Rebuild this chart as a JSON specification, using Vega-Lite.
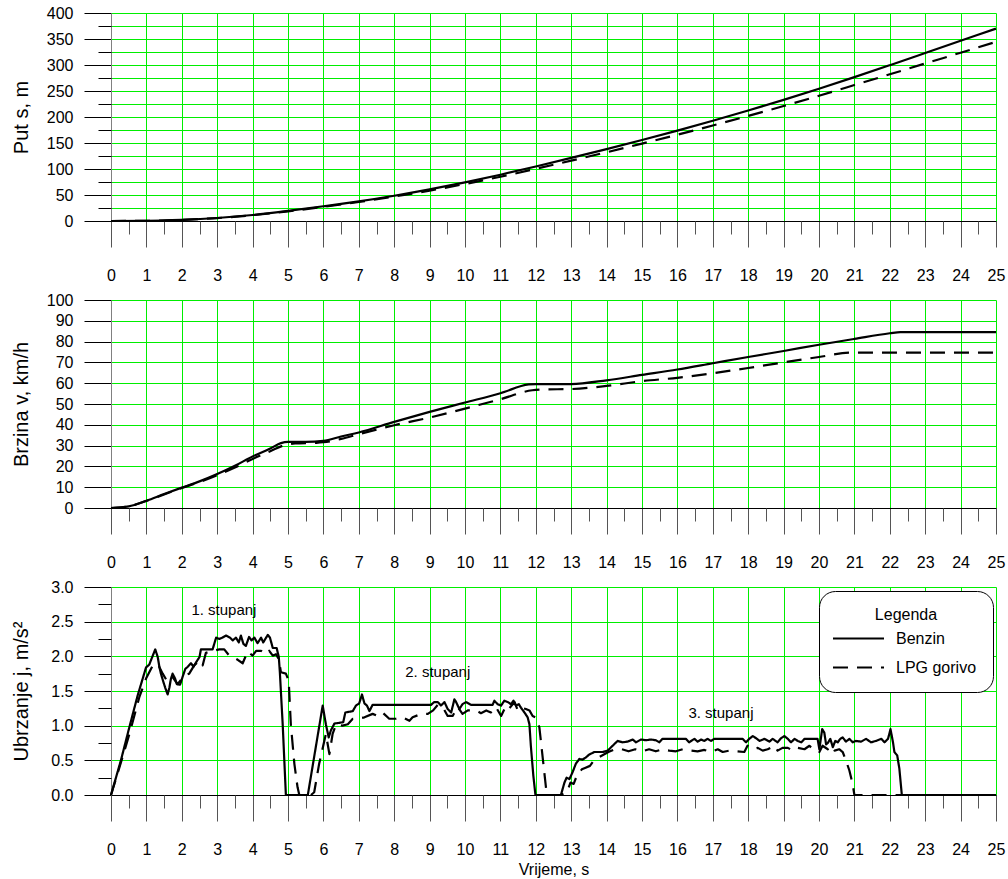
{
  "$schema": "https://vega.github.io/schema/vega-lite/v6.json",
  "padding": {"left": 10, "top": 5, "right": 1, "bottom": 5},
  "bounds": "flush",
  "spacing": 79,
  "config": {
    "view": {"stroke": null},
    "font": "Liberation Sans",
    "axis": {
      "labelFont": "Liberation Sans",
      "titleFont": "Liberation Sans",
      "labelColor": "black",
      "titleColor": "black",
      "labelFontSize": 16,
      "titleFontSize": 20,
      "titleFontWeight": "normal",
      "labelOverlap": false,
      "labelFlush": false,
      "labelBound": false,
      "gridColor": "#00ee00",
      "gridWidth": 1,
      "tickColor": "#555555",
      "tickWidth": 1,
      "domainWidth": 1
    }
  },
  "datasets": {
    "put": [
      {"t": 0, "s": 0, "gorivo": "Benzin"}, {"t": 1, "s": 0.35, "gorivo": "Benzin"}, {"t": 2, "s": 2.2, "gorivo": "Benzin"},
      {"t": 3, "s": 5.8, "gorivo": "Benzin"}, {"t": 4, "s": 11.5, "gorivo": "Benzin"}, {"t": 5, "s": 19.4, "gorivo": "Benzin"},
      {"t": 6, "s": 28.3, "gorivo": "Benzin"}, {"t": 7, "s": 37.8, "gorivo": "Benzin"}, {"t": 8, "s": 48.6, "gorivo": "Benzin"},
      {"t": 9, "s": 60.8, "gorivo": "Benzin"}, {"t": 10, "s": 74.3, "gorivo": "Benzin"}, {"t": 11, "s": 89.0, "gorivo": "Benzin"},
      {"t": 12, "s": 104.9, "gorivo": "Benzin"}, {"t": 13, "s": 121.4, "gorivo": "Benzin"}, {"t": 14, "s": 138.2, "gorivo": "Benzin"},
      {"t": 15, "s": 155.7, "gorivo": "Benzin"}, {"t": 16, "s": 173.8, "gorivo": "Benzin"}, {"t": 17, "s": 192.7, "gorivo": "Benzin"},
      {"t": 18, "s": 212.5, "gorivo": "Benzin"}, {"t": 19, "s": 233.0, "gorivo": "Benzin"}, {"t": 20, "s": 254.4, "gorivo": "Benzin"},
      {"t": 21, "s": 276.6, "gorivo": "Benzin"}, {"t": 22, "s": 299.6, "gorivo": "Benzin"}, {"t": 23, "s": 323.0, "gorivo": "Benzin"},
      {"t": 24, "s": 346.5, "gorivo": "Benzin"}, {"t": 25, "s": 370.0, "gorivo": "Benzin"},
      {"t": 0, "s": 0, "gorivo": "LPG gorivo"}, {"t": 1, "s": 0.35, "gorivo": "LPG gorivo"}, {"t": 2, "s": 2.16, "gorivo": "LPG gorivo"},
      {"t": 3, "s": 5.66, "gorivo": "LPG gorivo"}, {"t": 4, "s": 11.1, "gorivo": "LPG gorivo"}, {"t": 5, "s": 18.6, "gorivo": "LPG gorivo"},
      {"t": 6, "s": 27.2, "gorivo": "LPG gorivo"}, {"t": 7, "s": 36.5, "gorivo": "LPG gorivo"}, {"t": 8, "s": 47.0, "gorivo": "LPG gorivo"},
      {"t": 9, "s": 58.5, "gorivo": "LPG gorivo"}, {"t": 10, "s": 71.2, "gorivo": "LPG gorivo"}, {"t": 11, "s": 85.1, "gorivo": "LPG gorivo"},
      {"t": 12, "s": 100.3, "gorivo": "LPG gorivo"}, {"t": 13, "s": 116.1, "gorivo": "LPG gorivo"}, {"t": 14, "s": 132.2, "gorivo": "LPG gorivo"},
      {"t": 15, "s": 148.8, "gorivo": "LPG gorivo"}, {"t": 16, "s": 166.0, "gorivo": "LPG gorivo"}, {"t": 17, "s": 183.7, "gorivo": "LPG gorivo"},
      {"t": 18, "s": 202.0, "gorivo": "LPG gorivo"}, {"t": 19, "s": 221.1, "gorivo": "LPG gorivo"}, {"t": 20, "s": 240.9, "gorivo": "LPG gorivo"},
      {"t": 21, "s": 261.4, "gorivo": "LPG gorivo"}, {"t": 22, "s": 282.1, "gorivo": "LPG gorivo"}, {"t": 23, "s": 302.9, "gorivo": "LPG gorivo"},
      {"t": 24, "s": 323.6, "gorivo": "LPG gorivo"}, {"t": 25, "s": 344.4, "gorivo": "LPG gorivo"}
    ],
    "brzina": [
      {"t": 0, "v": 0, "gorivo": "Benzin"}, {"t": 0.5, "v": 0.8, "gorivo": "Benzin"}, {"t": 1, "v": 3.5, "gorivo": "Benzin"},
      {"t": 1.5, "v": 6.7, "gorivo": "Benzin"}, {"t": 2, "v": 9.8, "gorivo": "Benzin"}, {"t": 2.5, "v": 12.8, "gorivo": "Benzin"},
      {"t": 3, "v": 16.3, "gorivo": "Benzin"}, {"t": 3.5, "v": 20.3, "gorivo": "Benzin"}, {"t": 4, "v": 24.8, "gorivo": "Benzin"},
      {"t": 4.5, "v": 28.6, "gorivo": "Benzin"}, {"t": 4.8, "v": 31.2, "gorivo": "Benzin"}, {"t": 5, "v": 31.8, "gorivo": "Benzin"},
      {"t": 5.5, "v": 31.8, "gorivo": "Benzin"}, {"t": 6, "v": 32.3, "gorivo": "Benzin"}, {"t": 6.5, "v": 34.4, "gorivo": "Benzin"},
      {"t": 7, "v": 36.3, "gorivo": "Benzin"}, {"t": 8, "v": 41.4, "gorivo": "Benzin"}, {"t": 9, "v": 46.2, "gorivo": "Benzin"},
      {"t": 10, "v": 50.7, "gorivo": "Benzin"}, {"t": 11, "v": 55.2, "gorivo": "Benzin"}, {"t": 11.8, "v": 59.4, "gorivo": "Benzin"},
      {"t": 12, "v": 59.6, "gorivo": "Benzin"}, {"t": 13, "v": 59.6, "gorivo": "Benzin"}, {"t": 14, "v": 61.4, "gorivo": "Benzin"},
      {"t": 15, "v": 64.0, "gorivo": "Benzin"}, {"t": 16, "v": 66.6, "gorivo": "Benzin"}, {"t": 17, "v": 69.6, "gorivo": "Benzin"},
      {"t": 18, "v": 72.6, "gorivo": "Benzin"}, {"t": 19, "v": 75.5, "gorivo": "Benzin"}, {"t": 20, "v": 78.5, "gorivo": "Benzin"},
      {"t": 21, "v": 81.3, "gorivo": "Benzin"}, {"t": 22, "v": 84.0, "gorivo": "Benzin"}, {"t": 22.3, "v": 84.6, "gorivo": "Benzin"},
      {"t": 25, "v": 84.6, "gorivo": "Benzin"},
      {"t": 0, "v": 0, "gorivo": "LPG gorivo"}, {"t": 0.5, "v": 0.8, "gorivo": "LPG gorivo"}, {"t": 1, "v": 3.4, "gorivo": "LPG gorivo"},
      {"t": 1.5, "v": 6.5, "gorivo": "LPG gorivo"}, {"t": 2, "v": 9.6, "gorivo": "LPG gorivo"}, {"t": 2.5, "v": 12.5, "gorivo": "LPG gorivo"},
      {"t": 3, "v": 15.8, "gorivo": "LPG gorivo"}, {"t": 3.5, "v": 19.5, "gorivo": "LPG gorivo"}, {"t": 4, "v": 23.6, "gorivo": "LPG gorivo"},
      {"t": 4.5, "v": 27.3, "gorivo": "LPG gorivo"}, {"t": 4.9, "v": 30.2, "gorivo": "LPG gorivo"}, {"t": 5.2, "v": 31.0, "gorivo": "LPG gorivo"},
      {"t": 5.8, "v": 31.3, "gorivo": "LPG gorivo"}, {"t": 6, "v": 31.6, "gorivo": "LPG gorivo"}, {"t": 6.5, "v": 33.2, "gorivo": "LPG gorivo"},
      {"t": 7, "v": 35.5, "gorivo": "LPG gorivo"}, {"t": 8, "v": 39.8, "gorivo": "LPG gorivo"}, {"t": 9, "v": 43.5, "gorivo": "LPG gorivo"},
      {"t": 10, "v": 47.8, "gorivo": "LPG gorivo"}, {"t": 11, "v": 52.3, "gorivo": "LPG gorivo"}, {"t": 11.9, "v": 56.6, "gorivo": "LPG gorivo"},
      {"t": 12.2, "v": 57.0, "gorivo": "LPG gorivo"}, {"t": 13, "v": 57.2, "gorivo": "LPG gorivo"}, {"t": 14, "v": 58.7, "gorivo": "LPG gorivo"},
      {"t": 15, "v": 61.0, "gorivo": "LPG gorivo"}, {"t": 16, "v": 62.6, "gorivo": "LPG gorivo"}, {"t": 17, "v": 64.8, "gorivo": "LPG gorivo"},
      {"t": 18, "v": 67.3, "gorivo": "LPG gorivo"}, {"t": 19, "v": 70.0, "gorivo": "LPG gorivo"}, {"t": 20, "v": 72.6, "gorivo": "LPG gorivo"},
      {"t": 20.9, "v": 74.7, "gorivo": "LPG gorivo"}, {"t": 25, "v": 74.7, "gorivo": "LPG gorivo"}
    ],
    "ubrzanje": [
      {"t": 0, "j": 0, "gorivo": "Benzin"}, {"t": 0.28, "j": 0.5, "gorivo": "Benzin"}, {"t": 0.52, "j": 0.98, "gorivo": "Benzin"},
      {"t": 0.75, "j": 1.43, "gorivo": "Benzin"}, {"t": 0.99, "j": 1.84, "gorivo": "Benzin"}, {"t": 1.08, "j": 1.88, "gorivo": "Benzin"},
      {"t": 1.18, "j": 2.01, "gorivo": "Benzin"}, {"t": 1.25, "j": 2.1, "gorivo": "Benzin"}, {"t": 1.32, "j": 1.99, "gorivo": "Benzin"},
      {"t": 1.37, "j": 1.84, "gorivo": "Benzin"}, {"t": 1.41, "j": 1.75, "gorivo": "Benzin"}, {"t": 1.48, "j": 1.63, "gorivo": "Benzin"},
      {"t": 1.53, "j": 1.55, "gorivo": "Benzin"}, {"t": 1.6, "j": 1.45, "gorivo": "Benzin"}, {"t": 1.65, "j": 1.55, "gorivo": "Benzin"},
      {"t": 1.69, "j": 1.67, "gorivo": "Benzin"}, {"t": 1.74, "j": 1.75, "gorivo": "Benzin"}, {"t": 1.81, "j": 1.68, "gorivo": "Benzin"},
      {"t": 1.86, "j": 1.6, "gorivo": "Benzin"}, {"t": 1.95, "j": 1.59, "gorivo": "Benzin"}, {"t": 2.02, "j": 1.7, "gorivo": "Benzin"},
      {"t": 2.1, "j": 1.82, "gorivo": "Benzin"}, {"t": 2.17, "j": 1.85, "gorivo": "Benzin"}, {"t": 2.26, "j": 1.9, "gorivo": "Benzin"},
      {"t": 2.33, "j": 1.85, "gorivo": "Benzin"}, {"t": 2.4, "j": 1.91, "gorivo": "Benzin"}, {"t": 2.5, "j": 1.99, "gorivo": "Benzin"},
      {"t": 2.54, "j": 2.1, "gorivo": "Benzin"}, {"t": 2.87, "j": 2.1, "gorivo": "Benzin"}, {"t": 2.97, "j": 2.27, "gorivo": "Benzin"},
      {"t": 3.06, "j": 2.25, "gorivo": "Benzin"}, {"t": 3.15, "j": 2.27, "gorivo": "Benzin"}, {"t": 3.25, "j": 2.3, "gorivo": "Benzin"},
      {"t": 3.36, "j": 2.27, "gorivo": "Benzin"}, {"t": 3.44, "j": 2.23, "gorivo": "Benzin"}, {"t": 3.53, "j": 2.27, "gorivo": "Benzin"},
      {"t": 3.61, "j": 2.2, "gorivo": "Benzin"}, {"t": 3.67, "j": 2.3, "gorivo": "Benzin"}, {"t": 3.74, "j": 2.18, "gorivo": "Benzin"},
      {"t": 3.81, "j": 2.15, "gorivo": "Benzin"}, {"t": 3.9, "j": 2.28, "gorivo": "Benzin"}, {"t": 3.97, "j": 2.23, "gorivo": "Benzin"},
      {"t": 4.05, "j": 2.27, "gorivo": "Benzin"}, {"t": 4.14, "j": 2.19, "gorivo": "Benzin"}, {"t": 4.24, "j": 2.27, "gorivo": "Benzin"},
      {"t": 4.3, "j": 2.2, "gorivo": "Benzin"}, {"t": 4.43, "j": 2.31, "gorivo": "Benzin"}, {"t": 4.49, "j": 2.27, "gorivo": "Benzin"},
      {"t": 4.57, "j": 2.12, "gorivo": "Benzin"}, {"t": 4.68, "j": 2.12, "gorivo": "Benzin"}, {"t": 4.74, "j": 1.99, "gorivo": "Benzin"},
      {"t": 4.77, "j": 1.77, "gorivo": "Benzin"}, {"t": 4.85, "j": 1.02, "gorivo": "Benzin"}, {"t": 4.94, "j": 0, "gorivo": "Benzin"},
      {"t": 5.56, "j": 0, "gorivo": "Benzin"}, {"t": 5.98, "j": 1.29, "gorivo": "Benzin"}, {"t": 6.07, "j": 1.02, "gorivo": "Benzin"},
      {"t": 6.15, "j": 0.83, "gorivo": "Benzin"}, {"t": 6.21, "j": 0.93, "gorivo": "Benzin"}, {"t": 6.31, "j": 1.03, "gorivo": "Benzin"},
      {"t": 6.56, "j": 1.05, "gorivo": "Benzin"}, {"t": 6.62, "j": 1.19, "gorivo": "Benzin"}, {"t": 6.83, "j": 1.21, "gorivo": "Benzin"},
      {"t": 6.92, "j": 1.29, "gorivo": "Benzin"}, {"t": 7.01, "j": 1.32, "gorivo": "Benzin"}, {"t": 7.09, "j": 1.45, "gorivo": "Benzin"},
      {"t": 7.16, "j": 1.32, "gorivo": "Benzin"}, {"t": 7.23, "j": 1.29, "gorivo": "Benzin"}, {"t": 7.3, "j": 1.21, "gorivo": "Benzin"},
      {"t": 7.39, "j": 1.3, "gorivo": "Benzin"}, {"t": 9.04, "j": 1.3, "gorivo": "Benzin"}, {"t": 9.13, "j": 1.34, "gorivo": "Benzin"},
      {"t": 9.23, "j": 1.34, "gorivo": "Benzin"}, {"t": 9.32, "j": 1.29, "gorivo": "Benzin"}, {"t": 9.42, "j": 1.34, "gorivo": "Benzin"},
      {"t": 9.51, "j": 1.24, "gorivo": "Benzin"}, {"t": 9.61, "j": 1.19, "gorivo": "Benzin"}, {"t": 9.7, "j": 1.38, "gorivo": "Benzin"},
      {"t": 9.75, "j": 1.34, "gorivo": "Benzin"}, {"t": 9.84, "j": 1.24, "gorivo": "Benzin"}, {"t": 9.93, "j": 1.31, "gorivo": "Benzin"},
      {"t": 10.03, "j": 1.34, "gorivo": "Benzin"}, {"t": 10.17, "j": 1.3, "gorivo": "Benzin"}, {"t": 10.78, "j": 1.3, "gorivo": "Benzin"},
      {"t": 10.83, "j": 1.36, "gorivo": "Benzin"}, {"t": 10.92, "j": 1.31, "gorivo": "Benzin"}, {"t": 11.02, "j": 1.29, "gorivo": "Benzin"},
      {"t": 11.11, "j": 1.36, "gorivo": "Benzin"}, {"t": 11.21, "j": 1.34, "gorivo": "Benzin"}, {"t": 11.3, "j": 1.31, "gorivo": "Benzin"},
      {"t": 11.37, "j": 1.36, "gorivo": "Benzin"}, {"t": 11.44, "j": 1.29, "gorivo": "Benzin"}, {"t": 11.52, "j": 1.31, "gorivo": "Benzin"},
      {"t": 11.58, "j": 1.26, "gorivo": "Benzin"}, {"t": 11.68, "j": 1.19, "gorivo": "Benzin"}, {"t": 11.77, "j": 1.12, "gorivo": "Benzin"},
      {"t": 11.82, "j": 1.02, "gorivo": "Benzin"}, {"t": 11.86, "j": 0.71, "gorivo": "Benzin"}, {"t": 11.93, "j": 0.28, "gorivo": "Benzin"},
      {"t": 11.99, "j": 0, "gorivo": "Benzin"}, {"t": 12.71, "j": 0, "gorivo": "Benzin"}, {"t": 12.81, "j": 0.18, "gorivo": "Benzin"},
      {"t": 12.87, "j": 0.25, "gorivo": "Benzin"}, {"t": 12.95, "j": 0.23, "gorivo": "Benzin"}, {"t": 13.04, "j": 0.33, "gorivo": "Benzin"},
      {"t": 13.13, "j": 0.45, "gorivo": "Benzin"}, {"t": 13.23, "j": 0.52, "gorivo": "Benzin"}, {"t": 13.32, "j": 0.51, "gorivo": "Benzin"},
      {"t": 13.41, "j": 0.54, "gorivo": "Benzin"}, {"t": 13.5, "j": 0.58, "gorivo": "Benzin"}, {"t": 13.65, "j": 0.62, "gorivo": "Benzin"},
      {"t": 13.89, "j": 0.62, "gorivo": "Benzin"}, {"t": 14.03, "j": 0.64, "gorivo": "Benzin"}, {"t": 14.17, "j": 0.71, "gorivo": "Benzin"},
      {"t": 14.31, "j": 0.78, "gorivo": "Benzin"}, {"t": 14.45, "j": 0.76, "gorivo": "Benzin"}, {"t": 14.59, "j": 0.77, "gorivo": "Benzin"},
      {"t": 14.74, "j": 0.8, "gorivo": "Benzin"}, {"t": 14.83, "j": 0.76, "gorivo": "Benzin"}, {"t": 14.97, "j": 0.8, "gorivo": "Benzin"},
      {"t": 15.11, "j": 0.79, "gorivo": "Benzin"}, {"t": 15.25, "j": 0.8, "gorivo": "Benzin"}, {"t": 15.39, "j": 0.79, "gorivo": "Benzin"},
      {"t": 15.49, "j": 0.76, "gorivo": "Benzin"}, {"t": 15.58, "j": 0.81, "gorivo": "Benzin"}, {"t": 16.24, "j": 0.81, "gorivo": "Benzin"},
      {"t": 16.33, "j": 0.76, "gorivo": "Benzin"}, {"t": 16.48, "j": 0.81, "gorivo": "Benzin"}, {"t": 16.57, "j": 0.77, "gorivo": "Benzin"},
      {"t": 16.67, "j": 0.8, "gorivo": "Benzin"}, {"t": 16.76, "j": 0.78, "gorivo": "Benzin"}, {"t": 16.85, "j": 0.81, "gorivo": "Benzin"},
      {"t": 16.95, "j": 0.78, "gorivo": "Benzin"}, {"t": 17.04, "j": 0.81, "gorivo": "Benzin"}, {"t": 17.84, "j": 0.81, "gorivo": "Benzin"},
      {"t": 17.94, "j": 0.76, "gorivo": "Benzin"}, {"t": 18.03, "j": 0.81, "gorivo": "Benzin"}, {"t": 18.13, "j": 0.85, "gorivo": "Benzin"},
      {"t": 18.22, "j": 0.82, "gorivo": "Benzin"}, {"t": 18.32, "j": 0.78, "gorivo": "Benzin"}, {"t": 18.46, "j": 0.81, "gorivo": "Benzin"},
      {"t": 18.6, "j": 0.77, "gorivo": "Benzin"}, {"t": 18.69, "j": 0.81, "gorivo": "Benzin"}, {"t": 18.83, "j": 0.76, "gorivo": "Benzin"},
      {"t": 18.93, "j": 0.82, "gorivo": "Benzin"}, {"t": 19.02, "j": 0.85, "gorivo": "Benzin"}, {"t": 19.12, "j": 0.81, "gorivo": "Benzin"},
      {"t": 19.21, "j": 0.76, "gorivo": "Benzin"}, {"t": 19.31, "j": 0.81, "gorivo": "Benzin"}, {"t": 19.4, "j": 0.78, "gorivo": "Benzin"},
      {"t": 19.5, "j": 0.76, "gorivo": "Benzin"}, {"t": 19.59, "j": 0.81, "gorivo": "Benzin"}, {"t": 19.96, "j": 0.81, "gorivo": "Benzin"},
      {"t": 20.01, "j": 0.66, "gorivo": "Benzin"}, {"t": 20.09, "j": 0.95, "gorivo": "Benzin"}, {"t": 20.15, "j": 0.9, "gorivo": "Benzin"},
      {"t": 20.2, "j": 0.73, "gorivo": "Benzin"}, {"t": 20.25, "j": 0.75, "gorivo": "Benzin"}, {"t": 20.32, "j": 0.81, "gorivo": "Benzin"},
      {"t": 20.39, "j": 0.69, "gorivo": "Benzin"}, {"t": 20.46, "j": 0.78, "gorivo": "Benzin"}, {"t": 20.53, "j": 0.76, "gorivo": "Benzin"},
      {"t": 20.6, "j": 0.81, "gorivo": "Benzin"}, {"t": 20.67, "j": 0.83, "gorivo": "Benzin"}, {"t": 20.76, "j": 0.77, "gorivo": "Benzin"},
      {"t": 20.86, "j": 0.81, "gorivo": "Benzin"}, {"t": 20.95, "j": 0.76, "gorivo": "Benzin"}, {"t": 21.04, "j": 0.78, "gorivo": "Benzin"},
      {"t": 21.19, "j": 0.77, "gorivo": "Benzin"}, {"t": 21.33, "j": 0.81, "gorivo": "Benzin"}, {"t": 21.47, "j": 0.76, "gorivo": "Benzin"},
      {"t": 21.61, "j": 0.78, "gorivo": "Benzin"}, {"t": 21.76, "j": 0.81, "gorivo": "Benzin"}, {"t": 21.85, "j": 0.76, "gorivo": "Benzin"},
      {"t": 21.95, "j": 0.81, "gorivo": "Benzin"}, {"t": 22.02, "j": 0.95, "gorivo": "Benzin"}, {"t": 22.09, "j": 0.76, "gorivo": "Benzin"},
      {"t": 22.13, "j": 0.62, "gorivo": "Benzin"}, {"t": 22.21, "j": 0.57, "gorivo": "Benzin"}, {"t": 22.27, "j": 0.38, "gorivo": "Benzin"},
      {"t": 22.34, "j": 0, "gorivo": "Benzin"}, {"t": 25, "j": 0, "gorivo": "Benzin"},
      {"t": 0, "j": 0, "gorivo": "LPG gorivo"}, {"t": 0.24, "j": 0.4, "gorivo": "LPG gorivo"}, {"t": 0.52, "j": 0.88, "gorivo": "LPG gorivo"},
      {"t": 0.8, "j": 1.41, "gorivo": "LPG gorivo"}, {"t": 0.99, "j": 1.68, "gorivo": "LPG gorivo"}, {"t": 1.18, "j": 1.87, "gorivo": "LPG gorivo"},
      {"t": 1.32, "j": 1.89, "gorivo": "LPG gorivo"}, {"t": 1.46, "j": 1.75, "gorivo": "LPG gorivo"}, {"t": 1.6, "j": 1.63, "gorivo": "LPG gorivo"},
      {"t": 1.74, "j": 1.7, "gorivo": "LPG gorivo"}, {"t": 1.88, "j": 1.6, "gorivo": "LPG gorivo"}, {"t": 2.07, "j": 1.72, "gorivo": "LPG gorivo"},
      {"t": 2.21, "j": 1.75, "gorivo": "LPG gorivo"}, {"t": 2.35, "j": 1.87, "gorivo": "LPG gorivo"}, {"t": 2.5, "j": 1.94, "gorivo": "LPG gorivo"},
      {"t": 2.59, "j": 1.87, "gorivo": "LPG gorivo"}, {"t": 2.68, "j": 2.05, "gorivo": "LPG gorivo"}, {"t": 2.87, "j": 2.08, "gorivo": "LPG gorivo"},
      {"t": 3.06, "j": 2.1, "gorivo": "LPG gorivo"}, {"t": 3.2, "j": 2.1, "gorivo": "LPG gorivo"}, {"t": 3.34, "j": 2.01, "gorivo": "LPG gorivo"},
      {"t": 3.44, "j": 1.99, "gorivo": "LPG gorivo"}, {"t": 3.58, "j": 1.95, "gorivo": "LPG gorivo"}, {"t": 3.72, "j": 1.9, "gorivo": "LPG gorivo"},
      {"t": 3.86, "j": 2.07, "gorivo": "LPG gorivo"}, {"t": 4.0, "j": 2.01, "gorivo": "LPG gorivo"}, {"t": 4.1, "j": 2.08, "gorivo": "LPG gorivo"},
      {"t": 4.24, "j": 2.08, "gorivo": "LPG gorivo"}, {"t": 4.38, "j": 2.03, "gorivo": "LPG gorivo"}, {"t": 4.47, "j": 2.08, "gorivo": "LPG gorivo"},
      {"t": 4.57, "j": 2.01, "gorivo": "LPG gorivo"}, {"t": 4.66, "j": 2.03, "gorivo": "LPG gorivo"}, {"t": 4.74, "j": 1.96, "gorivo": "LPG gorivo"},
      {"t": 4.8, "j": 1.77, "gorivo": "LPG gorivo"}, {"t": 4.94, "j": 1.75, "gorivo": "LPG gorivo"}, {"t": 5.02, "j": 1.65, "gorivo": "LPG gorivo"},
      {"t": 5.08, "j": 1.02, "gorivo": "LPG gorivo"}, {"t": 5.18, "j": 0.45, "gorivo": "LPG gorivo"}, {"t": 5.27, "j": 0.11, "gorivo": "LPG gorivo"},
      {"t": 5.32, "j": 0, "gorivo": "LPG gorivo"}, {"t": 5.65, "j": 0, "gorivo": "LPG gorivo"}, {"t": 5.74, "j": 0.04, "gorivo": "LPG gorivo"},
      {"t": 5.88, "j": 0.45, "gorivo": "LPG gorivo"}, {"t": 6.07, "j": 0.88, "gorivo": "LPG gorivo"}, {"t": 6.17, "j": 0.59, "gorivo": "LPG gorivo"},
      {"t": 6.26, "j": 0.88, "gorivo": "LPG gorivo"}, {"t": 6.36, "j": 1.02, "gorivo": "LPG gorivo"}, {"t": 6.54, "j": 1.0, "gorivo": "LPG gorivo"},
      {"t": 6.69, "j": 1.02, "gorivo": "LPG gorivo"}, {"t": 6.83, "j": 1.1, "gorivo": "LPG gorivo"}, {"t": 6.97, "j": 1.1, "gorivo": "LPG gorivo"},
      {"t": 7.16, "j": 1.12, "gorivo": "LPG gorivo"}, {"t": 7.39, "j": 1.17, "gorivo": "LPG gorivo"}, {"t": 7.53, "j": 1.14, "gorivo": "LPG gorivo"},
      {"t": 7.67, "j": 1.19, "gorivo": "LPG gorivo"}, {"t": 7.86, "j": 1.1, "gorivo": "LPG gorivo"}, {"t": 8.05, "j": 1.1, "gorivo": "LPG gorivo"},
      {"t": 8.24, "j": 1.12, "gorivo": "LPG gorivo"}, {"t": 8.43, "j": 1.07, "gorivo": "LPG gorivo"}, {"t": 8.52, "j": 1.12, "gorivo": "LPG gorivo"},
      {"t": 8.76, "j": 1.17, "gorivo": "LPG gorivo"}, {"t": 8.95, "j": 1.17, "gorivo": "LPG gorivo"}, {"t": 9.1, "j": 1.22, "gorivo": "LPG gorivo"},
      {"t": 9.23, "j": 1.3, "gorivo": "LPG gorivo"}, {"t": 9.37, "j": 1.27, "gorivo": "LPG gorivo"}, {"t": 9.51, "j": 1.14, "gorivo": "LPG gorivo"},
      {"t": 9.65, "j": 1.14, "gorivo": "LPG gorivo"}, {"t": 9.79, "j": 1.27, "gorivo": "LPG gorivo"}, {"t": 9.93, "j": 1.17, "gorivo": "LPG gorivo"},
      {"t": 10.08, "j": 1.22, "gorivo": "LPG gorivo"}, {"t": 10.31, "j": 1.22, "gorivo": "LPG gorivo"}, {"t": 10.45, "j": 1.18, "gorivo": "LPG gorivo"},
      {"t": 10.6, "j": 1.22, "gorivo": "LPG gorivo"}, {"t": 10.73, "j": 1.19, "gorivo": "LPG gorivo"}, {"t": 10.87, "j": 1.27, "gorivo": "LPG gorivo"},
      {"t": 11.02, "j": 1.14, "gorivo": "LPG gorivo"}, {"t": 11.16, "j": 1.29, "gorivo": "LPG gorivo"}, {"t": 11.25, "j": 1.25, "gorivo": "LPG gorivo"},
      {"t": 11.4, "j": 1.34, "gorivo": "LPG gorivo"}, {"t": 11.49, "j": 1.22, "gorivo": "LPG gorivo"}, {"t": 11.58, "j": 1.26, "gorivo": "LPG gorivo"},
      {"t": 11.72, "j": 1.24, "gorivo": "LPG gorivo"}, {"t": 11.82, "j": 1.22, "gorivo": "LPG gorivo"}, {"t": 11.91, "j": 1.14, "gorivo": "LPG gorivo"},
      {"t": 11.99, "j": 1.12, "gorivo": "LPG gorivo"}, {"t": 12.1, "j": 0.98, "gorivo": "LPG gorivo"}, {"t": 12.24, "j": 0.33, "gorivo": "LPG gorivo"},
      {"t": 12.31, "j": 0, "gorivo": "LPG gorivo"}, {"t": 12.7, "j": 0, "gorivo": "LPG gorivo"}, {"t": 12.88, "j": 0.04, "gorivo": "LPG gorivo"},
      {"t": 12.98, "j": 0.18, "gorivo": "LPG gorivo"}, {"t": 13.07, "j": 0.16, "gorivo": "LPG gorivo"}, {"t": 13.16, "j": 0.28, "gorivo": "LPG gorivo"},
      {"t": 13.3, "j": 0.37, "gorivo": "LPG gorivo"}, {"t": 13.39, "j": 0.39, "gorivo": "LPG gorivo"}, {"t": 13.53, "j": 0.42, "gorivo": "LPG gorivo"},
      {"t": 13.63, "j": 0.49, "gorivo": "LPG gorivo"}, {"t": 13.77, "j": 0.54, "gorivo": "LPG gorivo"}, {"t": 13.91, "j": 0.58, "gorivo": "LPG gorivo"},
      {"t": 14.05, "j": 0.62, "gorivo": "LPG gorivo"}, {"t": 14.24, "j": 0.66, "gorivo": "LPG gorivo"}, {"t": 14.43, "j": 0.66, "gorivo": "LPG gorivo"},
      {"t": 14.62, "j": 0.63, "gorivo": "LPG gorivo"}, {"t": 14.81, "j": 0.66, "gorivo": "LPG gorivo"}, {"t": 15.0, "j": 0.63, "gorivo": "LPG gorivo"},
      {"t": 15.2, "j": 0.66, "gorivo": "LPG gorivo"}, {"t": 15.39, "j": 0.63, "gorivo": "LPG gorivo"}, {"t": 15.58, "j": 0.66, "gorivo": "LPG gorivo"},
      {"t": 15.77, "j": 0.64, "gorivo": "LPG gorivo"}, {"t": 15.96, "j": 0.63, "gorivo": "LPG gorivo"}, {"t": 16.15, "j": 0.66, "gorivo": "LPG gorivo"},
      {"t": 16.38, "j": 0.64, "gorivo": "LPG gorivo"}, {"t": 16.57, "j": 0.63, "gorivo": "LPG gorivo"}, {"t": 16.76, "j": 0.65, "gorivo": "LPG gorivo"},
      {"t": 16.95, "j": 0.62, "gorivo": "LPG gorivo"}, {"t": 17.14, "j": 0.66, "gorivo": "LPG gorivo"}, {"t": 17.28, "j": 0.62, "gorivo": "LPG gorivo"},
      {"t": 17.47, "j": 0.64, "gorivo": "LPG gorivo"}, {"t": 17.65, "j": 0.63, "gorivo": "LPG gorivo"}, {"t": 17.89, "j": 0.62, "gorivo": "LPG gorivo"},
      {"t": 17.98, "j": 0.71, "gorivo": "LPG gorivo"}, {"t": 18.13, "j": 0.66, "gorivo": "LPG gorivo"}, {"t": 18.27, "j": 0.68, "gorivo": "LPG gorivo"},
      {"t": 18.41, "j": 0.64, "gorivo": "LPG gorivo"}, {"t": 18.55, "j": 0.66, "gorivo": "LPG gorivo"}, {"t": 18.74, "j": 0.71, "gorivo": "LPG gorivo"},
      {"t": 18.83, "j": 0.64, "gorivo": "LPG gorivo"}, {"t": 18.97, "j": 0.68, "gorivo": "LPG gorivo"}, {"t": 19.12, "j": 0.68, "gorivo": "LPG gorivo"},
      {"t": 19.26, "j": 0.64, "gorivo": "LPG gorivo"}, {"t": 19.4, "j": 0.68, "gorivo": "LPG gorivo"}, {"t": 19.59, "j": 0.66, "gorivo": "LPG gorivo"},
      {"t": 19.73, "j": 0.71, "gorivo": "LPG gorivo"}, {"t": 19.87, "j": 0.64, "gorivo": "LPG gorivo"}, {"t": 20.01, "j": 0.62, "gorivo": "LPG gorivo"},
      {"t": 20.1, "j": 0.71, "gorivo": "LPG gorivo"}, {"t": 20.25, "j": 0.66, "gorivo": "LPG gorivo"}, {"t": 20.34, "j": 0.71, "gorivo": "LPG gorivo"},
      {"t": 20.44, "j": 0.64, "gorivo": "LPG gorivo"}, {"t": 20.57, "j": 0.66, "gorivo": "LPG gorivo"}, {"t": 20.67, "j": 0.62, "gorivo": "LPG gorivo"},
      {"t": 20.76, "j": 0.5, "gorivo": "LPG gorivo"}, {"t": 20.86, "j": 0.35, "gorivo": "LPG gorivo"}, {"t": 20.95, "j": 0.16, "gorivo": "LPG gorivo"},
      {"t": 21.0, "j": 0, "gorivo": "LPG gorivo"}, {"t": 25, "j": 0, "gorivo": "LPG gorivo"}
    ],
    "stupnjevi": [
      {"t": 3.19, "j": 2.67, "oznaka": "1. stupanj"},
      {"t": 9.23, "j": 1.78, "oznaka": "2. stupanj"},
      {"t": 17.23, "j": 1.18, "oznaka": "3. stupanj"}
    ]
  },
  "resolve": {
    "scale": {"x": "independent", "y": "independent", "strokeDash": "independent"},
    "legend": {"strokeDash": "independent"}
  },
  "vconcat": [
    {
      "width": 885,
      "height": 208,
      "data": {"name": "put"},
      "resolve": {"axis": {"x": "independent", "y": "independent"}},
      "layer": [
        {
          "transform": [{"filter": "datum.gorivo === 'Benzin'"}],
          "mark": {"type": "line", "color": "black", "strokeWidth": 2.2, "interpolate": "monotone"},
          "encoding": {
            "x": {
              "field": "t", "type": "quantitative",
              "scale": {"domain": [0, 25], "nice": false, "zero": false},
              "axis": {
                "orient": "bottom", "title": null, "format": "d",
                "values": [0,1,2,3,4,5,6,7,8,9,10,11,12,13,14,15,16,17,18,19,20,21,22,23,24,25],
                "tickSize": 26, "grid": true, "domainColor": "black", "labelPadding": 20
              }
            },
            "y": {
              "field": "s", "type": "quantitative",
              "scale": {"domain": [0, 400], "nice": false},
              "axis": {
                "orient": "left", "title": "Put s, m", "titleX": -80, "format": "d",
                "values": [0,50,100,150,200,250,300,350,400],
                "tickSize": 27, "tickColor": "black", "grid": true, "domainColor": "#808080", "labelPadding": 11
              }
            }
          }
        },
        {
          "transform": [{"filter": "datum.gorivo === 'LPG gorivo'"}],
          "mark": {"type": "line", "color": "black", "strokeWidth": 2.2, "interpolate": "monotone", "strokeDash": [15, 9]},
          "encoding": {
            "x": {
              "field": "t", "type": "quantitative",
              "axis": {
                "orient": "bottom", "title": null, "labels": false, "domain": false, "grid": false,
                "values": [0.5,1.5,2.5,3.5,4.5,5.5,6.5,7.5,8.5,9.5,10.5,11.5,12.5,13.5,14.5,15.5,16.5,17.5,18.5,19.5,20.5,21.5,22.5,23.5,24.5],
                "tickSize": 13
              }
            },
            "y": {
              "field": "s", "type": "quantitative",
              "axis": {
                "orient": "left", "title": null, "labels": false, "domain": false, "grid": true,
                "values": [25,75,125,175,225,275,325,375],
                "tickSize": 13, "tickColor": "black"
              }
            }
          }
        }
      ]
    },
    {
      "width": 885,
      "height": 208,
      "data": {"name": "brzina"},
      "resolve": {"axis": {"x": "independent", "y": "independent"}},
      "layer": [
        {
          "transform": [{"filter": "datum.gorivo === 'Benzin'"}],
          "mark": {"type": "line", "color": "black", "strokeWidth": 2.2, "interpolate": "monotone"},
          "encoding": {
            "x": {
              "field": "t", "type": "quantitative",
              "scale": {"domain": [0, 25], "nice": false, "zero": false},
              "axis": {
                "orient": "bottom", "title": null, "format": "d",
                "values": [0,1,2,3,4,5,6,7,8,9,10,11,12,13,14,15,16,17,18,19,20,21,22,23,24,25],
                "tickSize": 26, "grid": true, "domainColor": "black", "labelPadding": 20
              }
            },
            "y": {
              "field": "v", "type": "quantitative",
              "scale": {"domain": [0, 100], "nice": false},
              "axis": {
                "orient": "left", "title": "Brzina v, km/h", "titleX": -80, "format": "d",
                "values": [0,10,20,30,40,50,60,70,80,90,100],
                "tickSize": 27, "tickColor": "black", "grid": true, "domainColor": "#808080", "labelPadding": 11
              }
            }
          }
        },
        {
          "transform": [{"filter": "datum.gorivo === 'LPG gorivo'"}],
          "mark": {"type": "line", "color": "black", "strokeWidth": 2.2, "interpolate": "monotone", "strokeDash": [15, 9]},
          "encoding": {
            "x": {
              "field": "t", "type": "quantitative",
              "axis": {
                "orient": "bottom", "title": null, "labels": false, "domain": false, "grid": false,
                "values": [0.5,1.5,2.5,3.5,4.5,5.5,6.5,7.5,8.5,9.5,10.5,11.5,12.5,13.5,14.5,15.5,16.5,17.5,18.5,19.5,20.5,21.5,22.5,23.5,24.5],
                "tickSize": 13
              }
            },
            "y": {"field": "v", "type": "quantitative", "axis": null}
          }
        }
      ]
    },
    {
      "width": 885,
      "height": 208,
      "resolve": {"axis": {"x": "independent", "y": "independent"}},
      "layer": [
        {
          "data": {"name": "ubrzanje"},
          "mark": {"type": "line", "color": "black", "strokeWidth": 2.2, "strokeJoin": "round"},
          "encoding": {
            "x": {
              "field": "t", "type": "quantitative",
              "scale": {"domain": [0, 25], "nice": false, "zero": false},
              "axis": {
                "orient": "bottom", "title": "Vrijeme, s", "titleFontSize": 16, "titlePadding": 4, "format": "d",
                "values": [0,1,2,3,4,5,6,7,8,9,10,11,12,13,14,15,16,17,18,19,20,21,22,23,24,25],
                "tickSize": 26, "grid": true, "domainColor": "black", "labelPadding": 20
              }
            },
            "y": {
              "field": "j", "type": "quantitative",
              "scale": {"domain": [0, 3], "nice": false},
              "axis": {
                "orient": "left", "title": "Ubrzanje j, m/s²", "titleX": -80, "format": ".1f",
                "values": [0,0.5,1,1.5,2,2.5,3],
                "tickSize": 27, "tickColor": "black", "grid": true, "domainColor": "#808080", "labelPadding": 11
              }
            },
            "strokeDash": {
              "field": "gorivo", "type": "nominal",
              "scale": {"domain": ["Benzin", "LPG gorivo"], "range": [[1, 0], [15, 9]]},
              "legend": {
                "title": "Legenda",
                "orient": "none",
                "legendX": 708,
                "legendY": 4,
                "strokeColor": "black",
                "fillColor": "white",
                "cornerRadius": 16,
                "padding": 16,
                "titleAnchor": "middle",
                "titleFont": "Liberation Sans",
                "titleFontSize": 16,
                "titleFontWeight": "normal",
                "titleColor": "black",
                "titlePadding": 6,
                "labelFont": "Liberation Sans",
                "labelFontSize": 16,
                "labelColor": "black",
                "symbolType": "M-3,0H3",
                "symbolSize": 289,
                "symbolStrokeWidth": 2,
                "symbolStrokeColor": "black",
                "symbolFillColor": "transparent",
                "symbolOffset": 14,
                "labelOffset": 28,
                "rowPadding": 11
              }
            }
          }
        },
        {
          "data": {"name": "stupnjevi"},
          "mark": {"type": "text", "font": "Liberation Sans", "fontSize": 15, "color": "black", "align": "center", "baseline": "middle"},
          "encoding": {
            "x": {
              "field": "t", "type": "quantitative",
              "axis": {
                "orient": "bottom", "title": null, "labels": false, "domain": false, "grid": false,
                "values": [0.5,1.5,2.5,3.5,4.5,5.5,6.5,7.5,8.5,9.5,10.5,11.5,12.5,13.5,14.5,15.5,16.5,17.5,18.5,19.5,20.5,21.5,22.5,23.5,24.5],
                "tickSize": 13
              }
            },
            "y": {
              "field": "j", "type": "quantitative",
              "axis": {
                "orient": "left", "title": null, "labels": false, "domain": false, "grid": false,
                "values": [0.25,0.75,1.25,1.75,2.25,2.75],
                "tickSize": 13, "tickColor": "black"
              }
            },
            "text": {"field": "oznaka", "type": "nominal"}
          }
        }
      ]
    }
  ]
}
